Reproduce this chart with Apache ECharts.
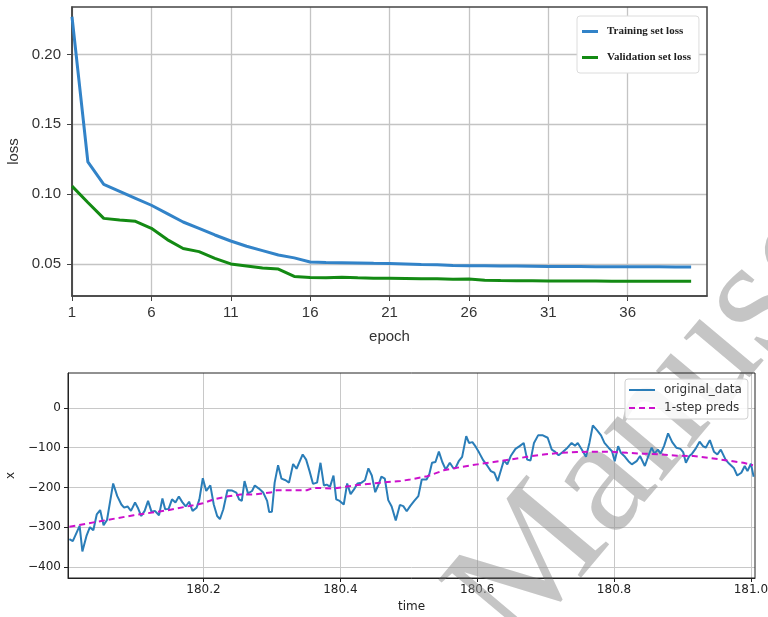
<!DOCTYPE html>
<html>
<head>
<meta charset="utf-8">
<script src="https://cdn.jsdelivr.net/npm/echarts@6/dist/echarts.min.js"></script>
<style>
  html, body { margin: 0; padding: 0; background: #fff; }
  #main { width: 768px; height: 617px; }
</style>
</head>
<body>
<div id="main"></div>
<script>
// top chart: loss per epoch
var epochs = [];
for (var e = 1; e <= 40; e++) epochs.push(e);
var trainLoss = [0.227, 0.123, 0.107, 0.102, 0.097, 0.092, 0.086, 0.080, 0.0755, 0.0707,
  0.0664, 0.0626, 0.0595, 0.0564, 0.0543, 0.0514, 0.0510, 0.0509, 0.0507, 0.0504,
  0.0502, 0.0500, 0.0496, 0.0493, 0.0489, 0.0487, 0.0487, 0.0485, 0.0484, 0.0483,
  0.0482, 0.0482, 0.0481, 0.0479, 0.0479, 0.0479, 0.0480, 0.0479, 0.0478, 0.0477];
var valLoss = [0.1057, 0.094, 0.0826, 0.0815, 0.0805, 0.0755, 0.0674, 0.061, 0.0588, 0.054,
  0.050, 0.0485, 0.047, 0.0463, 0.041, 0.0403, 0.0400, 0.0405, 0.0401, 0.0398,
  0.0397, 0.0395, 0.0393, 0.0394, 0.0390, 0.0392, 0.0383, 0.0381, 0.0380, 0.0379,
  0.0378, 0.0378, 0.0377, 0.0377, 0.0376, 0.0376, 0.0376, 0.0375, 0.0375, 0.0375];
var epochTicks = [1, 6, 11, 16, 21, 26, 31, 36];
var lossTicks = [0.05, 0.10, 0.15, 0.20];

// bottom chart: original data vs 1-step predictions
var origTime = [180.004, 180.009, 180.019, 180.023, 180.029, 180.034, 180.039, 180.044, 180.049, 180.054,
  180.059, 180.068, 180.074, 180.080, 180.084, 180.089, 180.094, 180.100, 180.104, 180.109,
  180.114, 180.119, 180.124, 180.129, 180.135, 180.140, 180.144, 180.149, 180.154, 180.159,
  180.164, 180.169, 180.174, 180.179, 180.184, 180.190, 180.194, 180.199, 180.204, 180.210,
  180.215, 180.220, 180.224, 180.229, 180.235, 180.242, 180.248, 180.252, 180.256, 180.260,
  180.265, 180.271, 180.275, 180.281, 180.287, 180.293, 180.296, 180.300, 180.304, 180.309,
  180.314, 180.320, 180.325, 180.331, 180.336, 180.345, 180.350, 180.355, 180.360, 180.366,
  180.371, 180.376, 180.380, 180.385, 180.390, 180.394, 180.399, 180.405, 180.410, 180.415,
  180.420, 180.425, 180.431, 180.436, 180.441, 180.446, 180.451, 180.456, 180.460, 180.465,
  180.470, 180.475, 180.481, 180.487, 180.492, 180.497, 180.502, 180.508, 180.514, 180.519,
  180.526, 180.530, 180.534, 180.539, 180.544, 180.549, 180.554, 180.560, 180.565, 180.568,
  180.573, 180.578, 180.584, 180.588, 180.593, 180.598, 180.603, 180.609, 180.615, 180.620,
  180.625, 180.630, 180.635, 180.639, 180.644, 180.649, 180.656, 180.662, 180.668, 180.673,
  180.678, 180.683, 180.689, 180.696, 180.703, 180.709, 180.713, 180.719, 180.725, 180.732,
  180.738, 180.743, 180.747, 180.753, 180.759, 180.764, 180.769, 180.775, 180.781, 180.786,
  180.792, 180.797, 180.801, 180.806, 180.810, 180.816, 180.821, 180.826, 180.833, 180.838,
  180.845, 180.851, 180.855, 180.859, 180.864, 180.868, 180.873, 180.879, 180.885, 180.891,
  180.897, 180.901, 180.905, 180.910, 180.914, 180.919, 180.925, 180.930, 180.934, 180.940,
  180.946, 180.951, 180.956, 180.963, 180.968, 180.975, 180.980, 180.986, 180.991, 180.995,
  181.000, 181.004];
var origValue = [-330, -335, -297, -361, -322, -300, -308, -268, -257, -295,
  -282, -190, -222, -243, -251, -248, -259, -238, -251, -272,
  -259, -234, -261, -259, -270, -228, -255, -254, -230, -238,
  -223, -237, -248, -236, -259, -251, -230, -177, -209, -195,
  -243, -272, -280, -255, -207, -208, -213, -230, -234, -184,
  -215, -209, -195, -203, -212, -234, -262, -261, -188, -144,
  -178, -182, -188, -141, -153, -117, -130, -159, -191, -188,
  -138, -195, -193, -198, -170, -230, -234, -243, -190, -217,
  -205, -190, -188, -182, -152, -170, -212, -192, -173, -178,
  -232, -248, -283, -244, -247, -260, -247, -234, -222, -180,
  -180, -167, -138, -136, -110, -136, -155, -138, -151, -152,
  -134, -123, -71, -88, -86, -98, -113, -132, -146, -159,
  -163, -184, -155, -132, -142, -121, -103, -96, -88, -130,
  -132, -88, -69, -69, -75, -105, -109, -119, -111, -100,
  -88, -95, -88, -105, -123, -88, -44, -56, -69, -88,
  -100, -109, -134, -96, -113, -123, -134, -142, -134, -121,
  -146, -117, -100, -115, -105, -115, -96, -64, -86, -100,
  -103, -111, -138, -121, -115, -103, -85, -96, -100, -81,
  -110, -117, -105, -130, -140, -151, -170, -163, -146, -159,
  -140, -173];
var predTime = [180.004, 180.049, 180.098, 180.146, 180.185, 180.199, 180.215, 180.234, 180.254, 180.273,
  180.298, 180.307, 180.351, 180.361, 180.390, 180.420, 180.459, 180.488, 180.502, 180.527,
  180.551, 180.575, 180.600, 180.624, 180.648, 180.673, 180.697, 180.721, 180.746, 180.770,
  180.794, 180.819, 180.843, 180.867, 180.892, 180.916, 180.940, 180.965, 180.989, 181.003];
var predValue = [-299, -285, -270, -258, -245, -240, -230, -223, -218, -218,
  -213, -207, -207, -201, -203, -195, -188, -184, -180, -172,
  -157, -149, -142, -136, -130, -123, -117, -113, -111, -110,
  -110, -113, -115, -117, -120, -121, -126, -132, -138, -144];
var timeTicks = [180.2, 180.4, 180.6, 180.8, 181.0];
var xTicks = [-400, -300, -200, -100, 0];

function pairs(xs, ys) {
  return xs.map(function (x, i) { return [x, ys[i]]; });
}

var chart = echarts.init(document.getElementById('main'), null, { renderer: 'canvas' });

var topFont = "'Liberation Sans Narrow', 'Liberation Sans', sans-serif";
var botFont = "'DejaVu Sans', sans-serif";
// dashed legend sample for the predictions
var dashIcon = 'path://M0,0h6v2h-6z M10,0h6v2h-6z M20,0h6v2h-6z';

var option = {
  backgroundColor: '#fff',
  animation: false,
  graphic: [{
    type: 'text',
    x: 548,
    y: 678,
    rotation: 50 * Math.PI / 180,
    z: 1,
    silent: true,
    style: {
      text: 'Manuscript',
      font: "165px 'Liberation Serif'",
      fill: 'rgba(150,150,150,0.55)',
      textAlign: 'left',
      textVerticalAlign: 'bottom'
    }
  }],
  legend: [{
    data: [
      { name: 'Training set loss', icon: 'rect' },
      { name: 'Validation set loss', icon: 'rect' }
    ],
    orient: 'vertical',
    left: 577,
    top: 16,
    itemWidth: 16,
    itemHeight: 3,
    itemGap: 15,
    padding: [10, 8, 10, 5],
    backgroundColor: '#fff',
    borderColor: '#dcdcdc',
    borderWidth: 1,
    borderRadius: 3,
    textStyle: {
      fontFamily: "'Liberation Serif', serif",
      fontWeight: 'bold',
      fontSize: 11,
      color: '#222',
      padding: [9, 0, 0, 4]
    }
  }, {
    data: [
      { name: 'original_data', icon: 'rect' },
      { name: '1-step preds', icon: dashIcon }
    ],
    orient: 'vertical',
    left: 625,
    top: 379,
    itemWidth: 26,
    itemHeight: 2,
    itemGap: 6,
    padding: [5, 6, 5, 4],
    backgroundColor: 'rgba(255,255,255,0.85)',
    borderColor: '#d0d0d0',
    borderWidth: 1,
    borderRadius: 3,
    textStyle: { fontFamily: botFont, fontSize: 12, color: '#333', padding: [0, 0, 0, 4] }
  }],
  grid: [
    { left: 72, right: 61, top: 7, bottom: 321, show: true, borderColor: '#444', borderWidth: 1.5, z: 3,
      outerBoundsMode: 'none' },
    { left: 68, right: 13, top: 373, bottom: 39, show: true, borderColor: '#222', borderWidth: 1, z: 3,
      outerBoundsMode: 'none' }
  ],
  xAxis: [{
    gridIndex: 0,
    type: 'value',
    min: 1,
    max: 41,
    name: 'epoch',
    nameLocation: 'middle',
    nameGap: 33,
    nameTextStyle: { fontFamily: topFont, fontSize: 15, color: '#333' },
    axisLine: { show: true, lineStyle: { color: '#444', width: 1.5 } },
    axisTick: { show: true, length: 5, customValues: epochTicks, lineStyle: { color: '#444' } },
    axisLabel: { customValues: epochTicks, fontFamily: topFont, fontSize: 15, color: '#333', margin: 9 },
    splitLine: { show: true, lineStyle: { color: '#c4c4c4', width: 1.3 } }
  }, {
    gridIndex: 1,
    type: 'value',
    min: 180.002,
    max: 181.006,
    name: 'time',
    nameLocation: 'middle',
    nameGap: 23,
    nameTextStyle: { fontFamily: botFont, fontSize: 12, color: '#222' },
    axisLine: { show: true, onZero: false, lineStyle: { color: '#222', width: 1 } },
    axisTick: { show: true, length: 4, customValues: timeTicks, lineStyle: { color: '#222' } },
    axisLabel: {
      customValues: timeTicks, fontFamily: botFont, fontSize: 12, color: '#222', margin: 6,
      formatter: function (v) { return v.toFixed(1); }
    },
    splitLine: { show: true, lineStyle: { color: '#c8c8c8', width: 1 } }
  }],
  yAxis: [{
    gridIndex: 0,
    type: 'value',
    min: 0.027,
    max: 0.234,
    name: 'loss',
    nameLocation: 'middle',
    nameGap: 40,
    nameTextStyle: { fontFamily: topFont, fontSize: 15, color: '#333' },
    axisLine: { show: true, lineStyle: { color: '#444', width: 1.5 } },
    axisTick: { show: true, length: 5, customValues: lossTicks, lineStyle: { color: '#444' } },
    axisLabel: {
      customValues: lossTicks, fontFamily: topFont, fontSize: 15, color: '#333', margin: 11,
      formatter: function (v) { return v.toFixed(2); }
    },
    splitLine: { show: true, lineStyle: { color: '#c4c4c4', width: 1.3 } }
  }, {
    gridIndex: 1,
    type: 'value',
    min: -428,
    max: 88,
    name: 'x',
    nameLocation: 'middle',
    nameGap: 50,
    nameTextStyle: { fontFamily: botFont, fontSize: 12, color: '#222' },
    axisLine: { show: true, onZero: false, lineStyle: { color: '#222', width: 1 } },
    axisTick: { show: true, length: 4, customValues: xTicks, lineStyle: { color: '#222' } },
    axisLabel: {
      customValues: xTicks, fontFamily: botFont, fontSize: 12, color: '#222', margin: 7,
      formatter: function (v) { return v < 0 ? '\u2212' + Math.abs(v) : String(v); }
    },
    splitLine: { show: true, lineStyle: { color: '#c8c8c8', width: 1 } }
  }],
  series: [{
    name: 'Training set loss',
    type: 'line',
    xAxisIndex: 0,
    yAxisIndex: 0,
    data: pairs(epochs, trainLoss),
    symbol: 'none',
    z: 4,
    lineStyle: { color: '#3283c8', width: 3 },
    itemStyle: { color: '#3283c8' }
  }, {
    name: 'Validation set loss',
    type: 'line',
    xAxisIndex: 0,
    yAxisIndex: 0,
    data: pairs(epochs, valLoss),
    symbol: 'none',
    z: 4,
    lineStyle: { color: '#138a13', width: 3 },
    itemStyle: { color: '#138a13' }
  }, {
    name: 'original_data',
    type: 'line',
    xAxisIndex: 1,
    yAxisIndex: 1,
    data: pairs(origTime, origValue),
    symbol: 'none',
    z: 4,
    lineStyle: { color: '#2a7db8', width: 2 },
    itemStyle: { color: '#2a7db8' }
  }, {
    name: '1-step preds',
    type: 'line',
    xAxisIndex: 1,
    yAxisIndex: 1,
    data: pairs(predTime, predValue),
    symbol: 'none',
    z: 4,
    lineStyle: { color: '#cc11cc', width: 2, type: [6, 4] },
    itemStyle: { color: '#cc11cc' }
  }]
};

chart.setOption(option);
</script>
</body>
</html>
